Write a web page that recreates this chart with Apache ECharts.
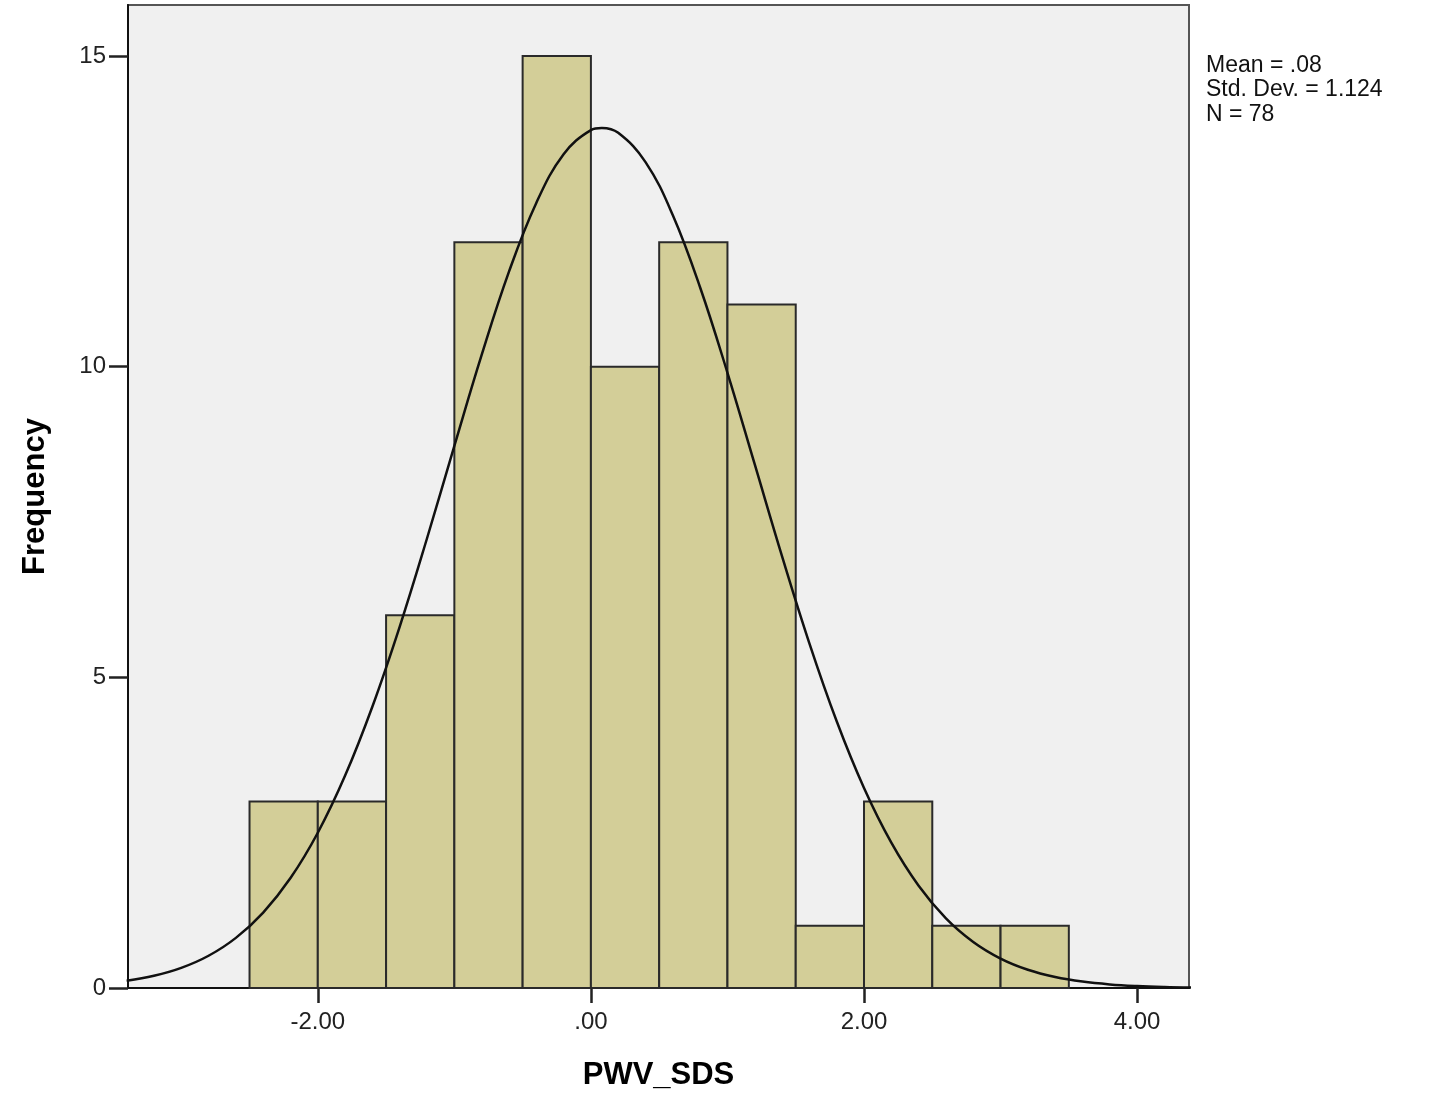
<!DOCTYPE html>
<html>
<head>
<meta charset="utf-8">
<script src="https://cdn.jsdelivr.net/npm/echarts@6/dist/echarts.min.js"></script>
<style>
  html, body { margin: 0; padding: 0; background: #fff; }
  #chart { width: 1430px; height: 1096px; }
</style>
</head>
<body>
<div id="chart"></div>
<script>
// histogram bins: [start, end]
const binStarts = [-2.5, -2.0, -1.5, -1.0, -0.5, 0.0, 0.5, 1.0, 1.5, 2.0, 2.5, 3.0]
const binWidth = 0.5
const counts = [3, 3, 6, 12, 15, 10, 12, 11, 1, 3, 1, 1]

// normal curve
const curveX = [-3.4, -3.2, -3.0, -2.8, -2.6, -2.4, -2.2, -2.0, -1.8, -1.6, -1.4, -1.2, -1.0, -0.8, -0.6, -0.4, -0.2, 0.0, 0.08,
  0.2, 0.4, 0.6, 0.8, 1.0, 1.2, 1.4, 1.6, 1.8, 2.0, 2.2, 2.4, 2.6, 2.8, 3.0, 3.2, 3.4, 3.6, 3.8, 4.0, 4.2, 4.4]
const curveY = [0.115, 0.196, 0.324, 0.519, 0.807, 1.214, 1.769, 2.498, 3.418, 4.531, 5.817, 7.238, 8.725, 10.188, 11.528, 12.635, 13.418, 13.807, 13.842,
  13.763, 13.292, 12.437, 11.274, 9.901, 8.426, 6.946, 5.547, 4.292, 3.218, 2.338, 1.645, 1.121, 0.741, 0.474, 0.294, 0.177, 0.103, 0.058, 0.032, 0.017, 0.009]

const xTicks = [-2, 0, 2, 4]
const yTicks = [0, 5, 10, 15]
const statsLines = ['Mean = .08', 'Std. Dev. = 1.124', 'N = 78']

const fmtX = (v) => {
  const s = Math.abs(v).toFixed(2).replace(/^0/, '')
  return (v < 0 ? '-' : '') + s
}

const font = 'Liberation Sans, Arial, sans-serif'

const chart = echarts.init(document.getElementById('chart'))
chart.setOption({
  animation: false,
  textStyle: { fontFamily: font },
  grid: {
    left: 128, right: 241, top: 5, bottom: 106,
    show: true, backgroundColor: '#f0f0f0', borderColor: '#555', borderWidth: 2
  },
  xAxis: {
    type: 'value', min: -3.39, max: 4.38,
    name: 'PWV_SDS', nameLocation: 'middle', nameGap: 72,
    nameTextStyle: { fontSize: 31, fontWeight: 'bold', color: '#000', fontFamily: font },
    axisLine: { show: true, onZero: false, lineStyle: { color: '#111', width: 2 } },
    axisTick: { show: true, length: 15, customValues: xTicks, lineStyle: { color: '#222', width: 2.5 } },
    axisLabel: { customValues: xTicks, formatter: fmtX, fontSize: 24, color: '#222', margin: 22 },
    splitLine: { show: false }
  },
  yAxis: {
    type: 'value', min: 0, max: 15.82,
    name: 'Frequency', nameLocation: 'middle', nameGap: 77, nameRotate: 90,
    nameTextStyle: { fontSize: 31, fontWeight: 'bold', color: '#000', fontFamily: font },
    axisLine: { show: true, onZero: false, lineStyle: { color: '#111', width: 2 } },
    axisTick: { show: true, length: 19, customValues: yTicks, lineStyle: { color: '#222', width: 2.5 } },
    axisLabel: { customValues: yTicks, fontSize: 24, color: '#222', margin: 22 },
    splitLine: { show: false }
  },
  series: [
    {
      type: 'custom',
      data: binStarts.map((s, i) => [s, s + binWidth, counts[i]]),
      renderItem: (params, api) => {
        const p0 = api.coord([api.value(0), api.value(2)])
        const p1 = api.coord([api.value(1), 0])
        return {
          type: 'rect',
          shape: { x: p0[0], y: p0[1], width: p1[0] - p0[0], height: p1[1] - p0[1] },
          style: { fill: '#d3ce98', stroke: '#2a2a2a', lineWidth: 2 }
        }
      },
      encode: { x: [0, 1], y: 2 },
      z: 2
    },
    {
      type: 'line',
      data: curveX.map((x, i) => [x, curveY[i]]),
      smooth: 0.4,
      symbol: 'none',
      lineStyle: { color: '#111', width: 2.5 },
      z: 3
    }
  ],
  graphic: [{
    type: 'text', left: 1206, top: 53,
    style: {
      text: statsLines.join('\n'), fontSize: 23, lineHeight: 24.5,
      fill: '#111', fontFamily: font
    }
  }]
})
</script>
</body>
</html>
